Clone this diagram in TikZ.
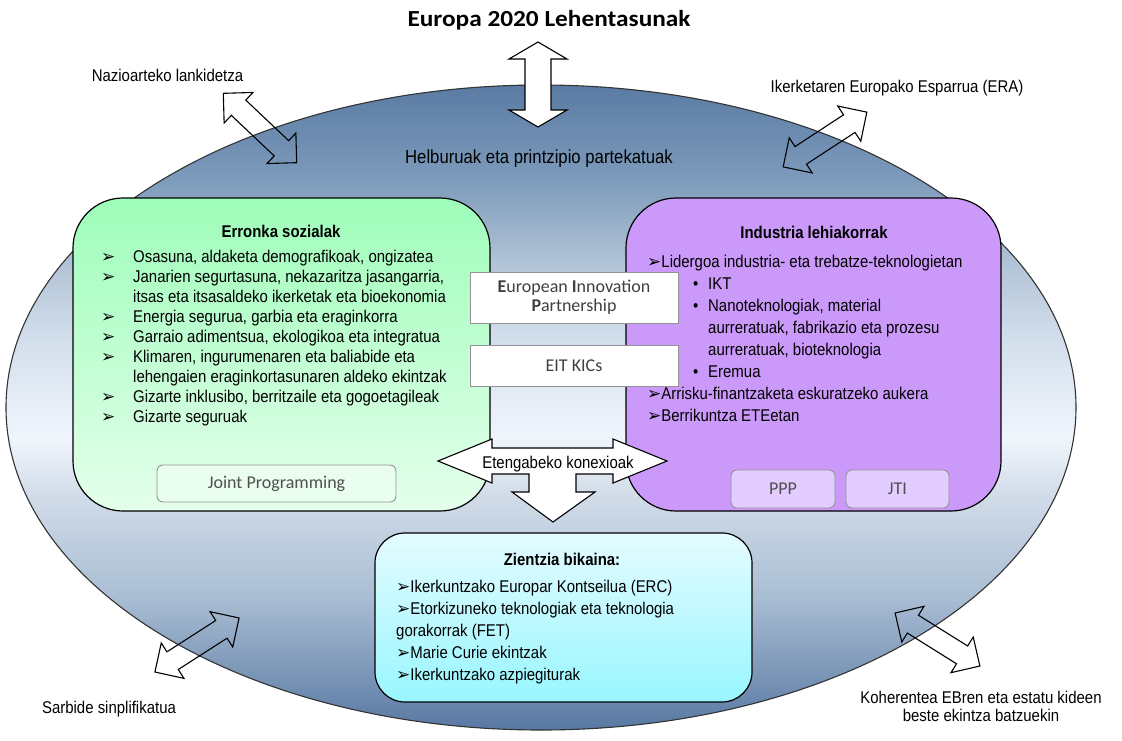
\documentclass[tikz,border=0pt]{standalone}
\usepackage{fontspec}
\newfontfamily\arf{Liberation Sans}[FakeStretch=0.88]
\newfontfamily\calf{Carlito}
\newfontfamily\symf{DejaVu Sans}
\definecolor{ellA}{HTML}{5878A2}
\definecolor{ellB}{HTML}{A9BDD3}
\definecolor{ellC}{HTML}{D0DBE8}
\definecolor{ellD}{HTML}{F0F5FC}
\definecolor{ellE}{HTML}{D6E1EE}
\definecolor{ellF}{HTML}{B5C6D8}
\definecolor{ellG}{HTML}{7D9BBB}
\definecolor{ellH}{HTML}{5A7BA3}
\definecolor{grnT}{HTML}{9EFDB9}
\definecolor{grnB}{HTML}{E4FFEC}
\definecolor{purp}{HTML}{CB99FA}
\definecolor{cyT}{HTML}{E4FCFF}
\definecolor{cyB}{HTML}{98F6FF}
\definecolor{jpFill}{HTML}{EAFEEF}
\definecolor{ppFill}{HTML}{E3CCFF}
\definecolor{smallTxt}{HTML}{505050}
\pgfdeclareverticalshading{ellshade}{100bp}{color(0bp)=(ellA); color(25bp)=(ellA); color(35.26bp)=(ellB); color(42.98bp)=(ellC); color(47.61bp)=(ellD); color(54.55bp)=(ellE); color(60.73bp)=(ellF); color(67.67bp)=(ellG); color(75bp)=(ellH); color(100bp)=(ellH)}
\newcommand{\arrb}{{\symf\fontsize{17}{20}\selectfont ➢}}
% double arrow: cx, cy, angle, length, shaft width, head width, head length, style
\newcommand{\dblarrow}[8]{%
  \begin{scope}[shift={(#1,#2)},rotate=#3]
    \pgfmathsetmacro\dAL{#4/2}\pgfmathsetmacro\dAS{#5/2}%
    \pgfmathsetmacro\dAH{#6/2}\pgfmathsetmacro\dAB{#4/2-#7}%
    \draw[#8] (-\dAL,0) -- (-\dAB,\dAH) -- (-\dAB,\dAS) -- (\dAB,\dAS) -- (\dAB,\dAH)
      -- (\dAL,0) -- (\dAB,-\dAH) -- (\dAB,-\dAS) -- (-\dAB,-\dAS) -- (-\dAB,-\dAH) -- cycle;
  \end{scope}}
\begin{document}
\begin{tikzpicture}[x=1pt,y=-1pt,
  bigbox/.style={draw=black, line width=1.2pt, inner sep=0, outer sep=0},
  smallbox/.style={draw=gray!85, line width=0.9pt, inner sep=0, outer sep=0,
     font=\calf\fontsize{18}{19}\selectfont, text=smallTxt},
  lbl/.style={inner sep=0, font=\arf\fontsize{17}{20}\selectfont},
  head/.style={inner sep=0, font=\arf\bfseries\fontsize{17}{20}\selectfont},
  outarrow/.style={draw=black, line width=1.1pt},
]
\useasboundingbox (0,0) rectangle (1122,740);
% big ellipse
\draw[draw=black!80, line width=1.1pt, shading=ellshade] (541,407.5) ellipse [x radius=535, y radius=322.5];

% three main boxes
\node[bigbox, rounded corners=50pt, top color=grnT, bottom color=grnB,
      minimum width=417pt, minimum height=313pt] (erronka) at (281.5,354.5) {};
\node[bigbox, rounded corners=50pt, fill=purp,
      minimum width=375pt, minimum height=313pt] (industria) at (813.5,354.5) {};
\node[bigbox, rounded corners=30pt, top color=cyT, bottom color=cyB,
      minimum width=377pt, minimum height=169pt] (zientzia) at (563.5,617.5) {};

% middle boxes
\node[smallbox, fill=white, minimum width=208pt, minimum height=51pt, align=center,
      text=black!75] (eip) at (574,297.5) {\textbf{E}uropean \textbf{I}nnovation\\\textbf{P}artnership};
\node[smallbox, fill=white, minimum width=208pt, minimum height=41pt,
      text=black!75] (eit) at (574,365.5) {EIT KICs};

% small boxes
\node[smallbox, rounded corners=6pt, fill=jpFill, minimum width=239pt, minimum height=37pt] (jp) at (276.5,483.5) {Joint Programming};
\node[smallbox, rounded corners=6pt, fill=ppFill, minimum width=104pt, minimum height=38pt] (ppp) at (783,489) {PPP};
\node[smallbox, rounded corners=6pt, fill=ppFill, minimum width=103pt, minimum height=38pt] (jti) at (897.5,489) {JTI};

% combined left-right-down arrow
\draw[draw=black, line width=1.1pt, fill=white]
  (438,461) -- (492,439) -- (492,448) -- (613,448) -- (613,439) -- (667,461)
  -- (613,483) -- (613,474) -- (576,474) -- (576,492) -- (595,492) -- (553,522)
  -- (512,492) -- (529,492) -- (529,474) -- (492,474) -- (492,483) -- cycle;
\node[lbl, anchor=base] (eten) at (558,468) {Etengabeko konexioak};

% outer arrows
\dblarrow{538}{84.5}{90}{85}{26}{58}{17}{outarrow, fill=white}
\dblarrow{260}{128}{-43.4}{101}{21}{42}{21}{outarrow}
\dblarrow{825}{139.5}{33.2}{100}{21}{42}{21}{outarrow}
\dblarrow{197}{645}{32.7}{100}{21}{42}{21}{outarrow}
\dblarrow{937.5}{639.5}{-32}{100}{21}{42}{21}{outarrow}

% title and outer labels
\node[inner sep=0, anchor=base, font=\calf\bfseries\fontsize{23}{26}\selectfont] (title) at (549,26)
  {\addfontfeatures{FakeStretch=1.1}Europa 2020 Lehentasunak};
\node[lbl, anchor=base] (nazio) at (167.5,81) {Nazioarteko lankidetza};
\node[lbl, anchor=base] (era) at (897,92) {Ikerketaren Europako Esparrua (ERA)};
\node[lbl, anchor=base, font=\arf\fontsize{19}{20}\selectfont] (helb) at (539,163) {Helburuak eta printzipio partekatuak};
\node[lbl, anchor=base] (sarb) at (109,713) {Sarbide sinplifikatua};
\node[lbl, align=center, font=\arf\fontsize{17}{18}\selectfont] (koher) at (981,706)
  {Koherentea EBren eta estatu kideen\\beste ekintza batzuekin};

% headings
\node[head, anchor=base] (erh) at (281,237) {Erronka sozialak};
\node[head, anchor=base] (inh) at (814,238) {Industria lehiakorrak};
\node[head, anchor=base] (zih) at (562,565) {Zientzia bikaina:};

% lists
\node[lbl, anchor=base west] (erlist) at (101,262) {%
\begin{tabular}[t]{@{}p{32pt}@{}l@{}}
\arrb & Osasuna, aldaketa demografikoak, ongizatea\\
\arrb & Janarien segurtasuna, nekazaritza jasangarria,\\
 & itsas eta itsasaldeko ikerketak eta bioekonomia\\
\arrb & Energia segurua, garbia eta eraginkorra\\
\arrb & Garraio adimentsua, ekologikoa eta integratua\\
\arrb & Klimaren, ingurumenaren eta baliabide eta\\
 & lehengaien eraginkortasunaren aldeko ekintzak\\
\arrb & Gizarte inklusibo, berritzaile eta gogoetagileak\\
\arrb & Gizarte seguruak
\end{tabular}};

\node[lbl, anchor=base west, font=\arf\fontsize{17}{22}\selectfont] (inlist) at (647,267) {%
\begin{tabular}[t]{@{}l@{}}
\arrb Lidergoa industria- eta trebatze-teknologietan\\
\hspace*{46pt}\makebox[15pt][l]{•}IKT\\
\hspace*{46pt}\makebox[15pt][l]{•}Nanoteknologiak, material\\
\hspace*{61pt}aurreratuak, fabrikazio eta prozesu\\
\hspace*{61pt}aurreratuak, bioteknologia\\
\hspace*{46pt}\makebox[15pt][l]{•}Eremua\\
\arrb Arrisku-finantzaketa eskuratzeko aukera\\
\arrb Berrikuntza ETEetan
\end{tabular}};

\node[lbl, anchor=base west, font=\arf\fontsize{17}{22}\selectfont] (zilist) at (396,592) {%
\begin{tabular}[t]{@{}l@{}}
\arrb Ikerkuntzako Europar Kontseilua (ERC)\\
\arrb Etorkizuneko teknologiak eta teknologia\\
gorakorrak (FET)\\
\arrb Marie Curie ekintzak\\
\arrb Ikerkuntzako azpiegiturak
\end{tabular}};
\end{tikzpicture}
\end{document}
